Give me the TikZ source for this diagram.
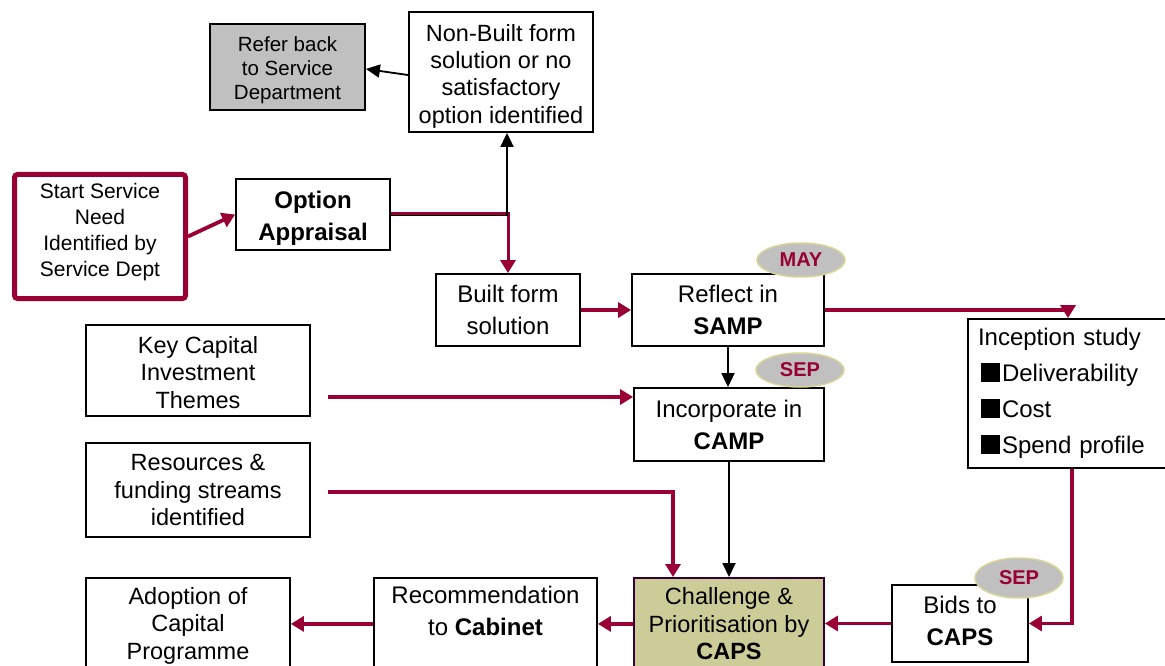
\documentclass[tikz,border=0pt]{standalone}
\usepackage{fontspec}
\setmainfont{Liberation Sans}
\usetikzlibrary{arrows.meta,shapes.geometric}
\definecolor{crim}{HTML}{990033}
\definecolor{grayc}{HTML}{C0C0C0}
\definecolor{chalfill}{HTML}{CCCC99}
\definecolor{chalbd}{HTML}{330033}
\definecolor{olivebd}{HTML}{D6D69A}
\begin{document}
\begin{tikzpicture}[x=1pt,y=-1pt,
  box/.style={draw=black, line width=1.8pt, align=center, inner sep=0pt, font=\fontsize{23.5}{27.5}\selectfont},
  two/.style={font=\fontsize{24}{32}\selectfont},
  rline/.style={draw=crim, line width=3.8pt, -{Triangle[length=13pt,width=15pt]}},
  bline/.style={draw=black, line width=1.8pt, -{Triangle[length=14pt,width=13pt]}},
  month/.style={ellipse, draw=olivebd, fill=grayc, line width=1.5pt, text=crim, font=\fontsize{20}{22}\selectfont\bfseries, inner sep=0pt, minimum width=88pt, minimum height=34pt},
]
\useasboundingbox[fill=white] (0,0) rectangle (1165,666);
\clip (0,0) rectangle (1165,666);

% boxes
\node[box, fill=grayc, minimum width=155pt, minimum height=86pt, font=\fontsize{20.5}{24}\selectfont] (refer) at (287.5,67) {\rule{0pt}{21pt}Refer back\\to Service\\Department};
\node[box, minimum width=184pt, minimum height=120pt, font=\fontsize{23.5}{27.3}\selectfont] (nonbuilt) at (501,72) {\rule{0pt}{25pt}Non-Built form\\solution or no\\satisfactory\\option identified};
\node[box, draw=crim, line width=5pt, rounded corners=3pt, minimum width=171pt, minimum height=124pt, font=\fontsize{21}{26}\selectfont] (start) at (100,236.5) {Start Service\\Need\\Identified by\\Service Dept\rule[-12.5pt]{0pt}{12.5pt}};
\node[box, minimum width=154pt, minimum height=71pt, font=\fontsize{24}{32}\selectfont\bfseries] (option) at (313,214.5) {\rule{0pt}{24pt}Option\\Appraisal};
\node[box, two, minimum width=144pt, minimum height=72pt] (built) at (508,310) {Built form\\solution};
\node[box, two, minimum width=192pt, minimum height=72pt] (reflect) at (728,310) {Reflect in\\\textbf{SAMP}};
\node[box, two, minimum width=190pt, minimum height=73pt] (camp) at (729,424.5) {Incorporate in\\\textbf{CAMP}};
\node[box, minimum width=210pt, minimum height=149pt, align=left, text width=190pt, font=\fontsize{24}{36}\selectfont] (incep) at (1073,393.5) {Inception study\\\hspace*{3pt}\rule{19pt}{19pt}\hspace{2pt}Deliverability\\\hspace*{3pt}\rule{19pt}{19pt}\hspace{2pt}Cost\\\hspace*{3pt}\rule{19pt}{19pt}\hspace{2pt}Spend profile};
\node[box, minimum width=224pt, minimum height=91pt] (key) at (198,370.5) {\rule{0pt}{21pt}Key Capital\\Investment\\Themes};
\node[box, minimum width=224pt, minimum height=94pt] (res) at (198,490) {Resources \&\\funding streams\\identified};
\node[box, anchor=north, minimum width=204pt, minimum height=92pt] (adopt) at (188,577) {\rule{0pt}{21pt}Adoption of\\Capital\\Programme};
\node[box, two, anchor=north, minimum width=223pt, minimum height=108pt] (recom) at (485.5,577) {Recommendation\\to \textbf{Cabinet}\\\strut};
\node[box, anchor=north, fill=chalfill, draw=chalbd, minimum width=190pt, minimum height=92pt] (chal) at (729,577) {Challenge \&\\Prioritisation by\\\textbf{CAPS}};
\node[box, two, minimum width=136pt, minimum height=77pt] (bids) at (960,623.5) {Bids to\\\textbf{CAPS}\rule[-6pt]{0pt}{6pt}};

% connectors
\draw[bline] ([yshift=-3pt]nonbuilt.west) -- ([yshift=-2pt]refer.east);
\draw[rline] (start.east) -- (option.west);
\draw[rline, line width=3pt] ([yshift=1.5pt]option.east) -| (built.north);
\draw[bline] ([yshift=-1pt]option.east) -| ([xshift=6pt]nonbuilt.south);
\draw[rline] (built.east) -- (reflect.west);
\draw[rline] (reflect.east) -| ([xshift=-5pt]incep.north);
\draw[bline] (reflect.south) -- (reflect.south |- camp.north);
\draw[rline, shorten <=17pt] ([yshift=-26.5pt]key.east) -- ([yshift=-26.5pt]key.east -| camp.west);
\draw[rline, shorten <=17pt] ([yshift=-2pt]res.east) -| ([xshift=-56pt]chal.north);
\draw[bline] (camp.south) -- (chal.north);
\draw[rline] ([xshift=-1pt]incep.south) |- (bids.east);
\draw[rline] (bids.west) -- (bids.west -| chal.east);
\draw[rline] (chal.west) -- (chal.west -| recom.east);
\draw[rline] (recom.west |- adopt.east) -- (adopt.east);

% month labels
\node[month] (may) at (801,260) {MAY};
\node[month] (sep1) at (800,370) {SEP};
\node[month, minimum height=40pt] (sep2) at (1019,578) {SEP};
\end{tikzpicture}
\end{document}
